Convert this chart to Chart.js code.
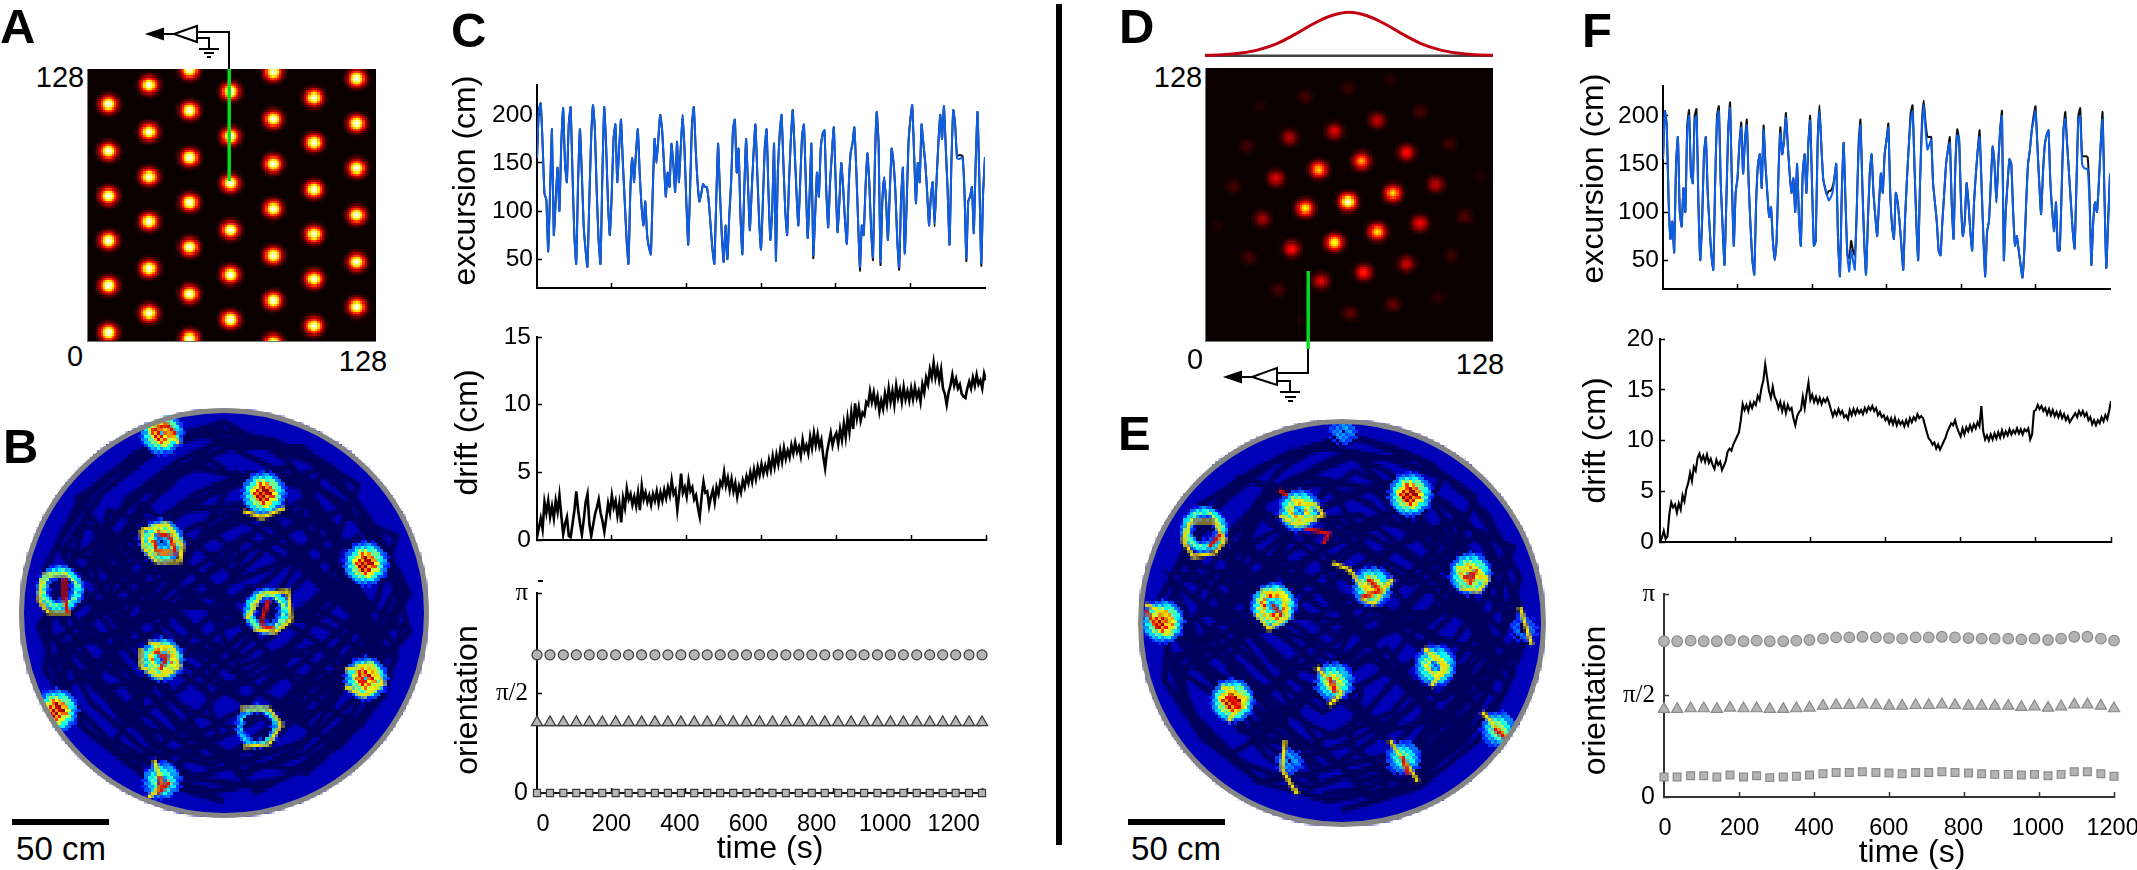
<!DOCTYPE html>
<html><head><meta charset="utf-8"><title>Grid cell model figure</title>
<script src="https://cdn.jsdelivr.net/npm/chart.js@4"></script>
<style>
html,body{margin:0;padding:0;background:#fff}
#page{position:relative;width:2137px;height:870px;overflow:hidden;background:#fff;font-family:"Liberation Sans",Arial,sans-serif;color:#000}
canvas{position:absolute;display:block}
.px{image-rendering:pixelated}
.t{position:absolute;white-space:nowrap;line-height:1;transform:translate(-50%,-50%)}
.L{position:absolute;font-weight:bold;font-size:49px;line-height:1}
.ring{position:absolute;border-radius:50%;border:5px solid #858585;box-sizing:border-box}
.bar{position:absolute;background:#000}
</style></head><body><div id="page">
<svg id="schem" width="2137" height="870" style="position:absolute;left:0;top:0;z-index:5" fill="none" stroke="#000" stroke-width="2">
<path d="M229 69V32H197M174 34H160M197 38H209V48M199 49H219M204 53H214M207 57H211"/>
<path d="M174 34L197 26V42Z" fill="#fff"/><path d="M148 34L163 29V39Z" fill="#000"/>
<path d="M1308 349V373H1277M1252 377H1238M1277 381H1290V391M1280 392H1300M1285 397H1296M1288 401H1293"/>
<path d="M1252 377L1277 368V385Z" fill="#fff"/><path d="M1226 377L1241 372V382Z" fill="#000"/>
<rect x="227.5" y="69" width="3.4" height="112" fill="#00e020" stroke="none"/>
<rect x="1306.5" y="271" width="3.4" height="78" fill="#00e020" stroke="none"/>
</svg>
</div>
<script>
/* ---------- tick labels ---------- */
const timeTickLabels=[0,200,400,600,800,1000,1200];
const excursionTicks=[50,100,150,200];
const driftTicksC=[0,5,10,15];
const driftTicksF=[0,5,10,15,20];
const orientationTickValues=[0,1.5708,3.1416];
const orientationTickText=["0","\u03c0/2","\u03c0"];
const heatmapLabels=["0","128"];
/* ---------- panel C / F time series, one value every 5 s ---------- */
const excursionC=[155,205,212,170,118,112,58,120,185,75,110,145,100,170,207,150,130,190,208,140,75,45,130,185,140,85,60,42,110,175,210,185,120,70,45,135,208,170,110,75,115,175,190,130,165,195,150,110,70,45,120,155,130,160,185,140,105,85,110,75,62,55,120,175,150,175,200,185,150,115,140,125,170,150,120,172,130,165,200,165,110,65,120,190,208,165,130,110,118,128,125,125,110,85,60,45,110,170,120,75,47,85,50,95,130,185,195,140,165,95,55,120,175,130,80,120,160,190,140,90,60,110,165,185,120,70,100,170,48,140,180,200,150,100,75,130,175,205,165,120,85,130,178,190,130,72,115,170,54,95,140,115,165,180,184,120,83,130,160,187,130,78,110,150,125,90,66,125,160,170,187,145,90,42,85,75,125,160,130,80,52,150,203,170,47,110,135,110,70,120,165,150,120,70,42,110,145,56,105,170,195,210,160,108,150,130,190,170,150,120,85,115,130,87,130,170,200,175,209,165,120,65,150,205,190,155,154,155,155,120,51,110,115,125,77,150,203,130,46,120,156];
const excursionBlackPatchC={82:123,148:51,173:38,180:49,184:44,194:39,225:157,226:158,227:158,228:157,230:48,238:43,213:84};
const excursionF=[155,205,190,113,72,90,58,150,178,100,85,125,100,185,200,140,130,195,200,110,50,90,160,178,120,85,55,40,130,195,205,130,85,45,110,185,208,130,65,120,135,170,188,140,175,190,130,85,50,35,110,150,160,125,185,150,120,95,105,70,50,70,140,182,160,175,198,170,140,120,135,100,150,95,65,140,160,120,170,195,130,65,70,170,205,170,135,125,118,112,115,120,135,150,70,33,120,172,110,55,38,60,50,40,100,165,190,130,70,35,90,140,160,120,95,75,110,140,120,160,175,188,120,85,72,120,110,90,65,40,95,135,170,195,205,150,90,50,130,185,212,185,165,170,175,130,110,90,60,55,90,120,150,165,172,110,72,150,180,175,110,75,90,130,110,80,60,110,140,165,178,130,75,33,80,90,130,168,150,110,150,185,200,50,100,130,155,150,100,65,75,60,45,32,60,110,150,165,185,195,205,170,130,98,140,170,180,185,130,100,80,110,60,60,120,185,197,170,140,110,80,62,130,195,200,150,146,145,145,110,45,90,110,100,130,170,196,120,42,90,140];
const excursionBlackPatchF={13:190,14:206,17:200,18:207,29:200,30:210,36:214,42:193,45:196,54:190,63:188,66:203,79:200,84:211,89:122,90:122,91:126,100:52,101:70,102:60,103:55,105:170,106:196,121:192,133:203,134:211,139:192,140:216,141:192,142:178,143:178,144:178,154:178,158:186,170:185,182:205,199:200,200:210,216:204,223:200,224:208,225:158,226:158,227:158,228:157,229:120,236:204};
const driftC=[.2,.9,1.6,.8,2.8,2,2.9,1.7,2.5,1.6,2.9,2.1,3.3,1.8,.4,1.2,1.7,.3,.2,1.2,2.2,3.6,2.2,1.2,.4,1.5,2.8,3.4,1.2,.3,1.1,1.9,2.4,3,2,1.4,.6,1.6,2.7,2,3.3,2.4,2.9,1.8,2.7,1.3,3.1,2.4,3.8,3,3.4,2.6,3.2,2.5,3.5,2.2,4,3,3.5,2.8,3.3,2.6,3.4,2.9,3.6,2.7,3.5,2.9,3.7,3.1,3.9,3.3,4.4,3.4,3.7,2.2,3.4,4.9,3.5,3.9,3.2,4.4,3.6,3.9,3,3.3,2.4,1.7,3.2,4.3,3.5,3.6,2.5,3.2,3.7,2.8,3.9,3.4,4.3,4,5,4,4.6,3.7,4.5,3.6,4.2,3.2,4,3.5,4.4,3.9,4.7,4.2,5,4.3,5.2,4.5,5.4,4.8,5.6,4.9,5.5,5,5.9,5.2,6.2,5.4,6.3,5.6,6.6,5.8,6.8,6,6.6,6.1,7,6.4,7.2,6.5,6.9,6.2,7.4,6.6,7,6.4,7.6,6.8,7.9,7,7.8,6.9,7.4,6.2,5.3,6.5,7.2,7.9,7,7.6,7.9,7.1,8.2,7.4,8.6,7.6,9,8,9.4,8.2,10.1,9,9.8,8.8,9.4,9.2,10.2,10,11,10.2,10.9,10,10.6,9.5,10.3,9.7,10.8,10,11.2,10.2,11,10,11.4,10.5,11.1,10.2,11.3,10.4,11,10.3,11.2,10.4,11.3,10.5,11,10.2,11.5,10.9,12,11.5,12.6,12,13.1,12,12.7,11.8,12.6,11.2,10.8,10,10.9,11.4,12.2,11.4,11.9,11.2,11.5,10.8,10.6,10.5,11.2,11.7,11.2,12,11.4,12.2,11.5,11.8,11.2,12.3,11.8];
const driftF=[0,.4,1.1,.3,.6,2.8,3.9,3.4,3.7,2.9,3.8,3.2,4.6,4,5.2,5.8,6.8,6,7.4,7,8.3,8.7,8,8.5,7.9,8.6,7.8,8.2,7.6,7.2,8.1,7.6,7.9,7.1,7.5,8,8.9,9.2,9,9.6,10,10.4,10.8,12,13.6,13,13.5,12.9,13.7,13.2,13.8,13.5,14.4,14,15.2,15.9,17.5,16.2,14.9,14.2,15.3,14.3,13.9,13.2,13.8,12.9,13.6,12.7,13.5,13,13.2,12.2,11.5,12.4,12.8,13,14.3,13.2,14.6,15.7,14,14.5,13.8,14.3,13.7,14.2,13.6,14.1,13.8,14.2,13.7,13,12.4,12.9,12.5,13.1,12.6,12.9,12.3,12.5,12.1,13,12.5,13.1,12.6,13.1,12.7,13,12.6,13.2,12.8,13.3,13,13.4,12.9,13.2,12.5,12.8,12.3,12.5,12,12.3,11.7,12.2,11.6,12.2,11.5,12,11.6,11.9,11.4,12,11.5,12.2,11.8,12.3,12,12.6,12.2,12.4,12.2,11.5,10.8,10.2,10,9.6,9.8,9.2,9.6,9.1,9.5,9.9,10.3,10.9,11.3,11.7,11.5,12,11.3,10.8,10.4,11.2,10.6,11.3,10.9,11.5,11,11.6,11.2,11.8,11.4,13.4,10.9,10.1,10.5,10,10.6,10.1,10.7,10.2,10.8,10.3,11,10.4,10.9,10.5,11.1,10.6,11,10.7,11.2,10.7,11.1,10.6,11.1,10.9,11.2,10.1,10.6,12.9,13,13.5,13.1,13.4,12.9,13.2,12.6,13.1,12.5,13,12.4,12.8,12.3,12.8,12.2,12.6,12,12.4,11.8,12.1,12.4,12.7,12.3,12.9,12.5,12.9,12.4,12.7,12,12.3,11.6,12,11.5,12,11.7,12.3,11.9,12.5,12.1,12.9,13.9];
/* ---------- orientation panels ---------- */
const orientationTimes=[0,35,71,106,141,176,212,247,282,318,353,388,424,459,494,529,565,600,635,671,706,741,776,812,847,882,918,953,988,1024,1059,1094,1129,1165,1200];
const circlesC=[2.17,2.17,2.17,2.17,2.17,2.17,2.17,2.17,2.17,2.17,2.17,2.17,2.17,2.17,2.17,2.17,2.17,2.17,2.17,2.17,2.17,2.17,2.17,2.17,2.17,2.17,2.17,2.17,2.17,2.17,2.17,2.17,2.17,2.17,2.17];
const trianglesC=[1.11,1.11,1.11,1.11,1.11,1.11,1.11,1.11,1.11,1.11,1.11,1.11,1.11,1.11,1.11,1.11,1.11,1.11,1.11,1.11,1.11,1.11,1.11,1.11,1.11,1.11,1.11,1.11,1.11,1.11,1.11,1.11,1.11,1.11,1.11];
const squaresC=[0,0,0,0,0,0,0,0,0,0,0,0,0,0,0,0,0,0,0,0,0,0,0,0,0,0,0,0,0,0,0,0,0,0,0];
const baseLineC=[1.06,1.06];
const circlesF=[2.41,2.41,2.42,2.41,2.41,2.43,2.41,2.42,2.41,2.41,2.42,2.43,2.45,2.47,2.47,2.48,2.47,2.46,2.45,2.47,2.47,2.48,2.47,2.46,2.45,2.45,2.45,2.44,2.45,2.43,2.45,2.48,2.48,2.45,2.42];
const trianglesF=[1.36,1.36,1.37,1.37,1.36,1.38,1.37,1.37,1.36,1.36,1.37,1.38,1.41,1.42,1.42,1.43,1.42,1.41,1.41,1.42,1.42,1.43,1.42,1.41,1.41,1.41,1.41,1.39,1.4,1.38,1.4,1.43,1.43,1.41,1.37];
const squaresF=[.31,.31,.33,.33,.31,.34,.31,.33,.3,.31,.32,.34,.36,.38,.38,.39,.38,.37,.36,.38,.38,.39,.38,.37,.36,.35,.35,.34,.35,.33,.35,.39,.39,.36,.32];
/* ---------- panel D tuning curve ---------- */
const tuningX=[0,8,16,24,32,40,48,56,64,72,80,88,96,104,112,120,128];
const tuningY=[.01,.02,.06,.14,.28,.49,.73,.92,1,.92,.73,.49,.28,.14,.06,.02,.01];
/* ---------- panels A, D: field centres (0-128 sheet units) and peak height ---------- */
const sheetAx=[9.3,9.3,9.3,9.3,9.3,9.3,27.5,27.5,27.5,27.5,27.5,27.5,45.6,45.6,45.6,45.6,45.6,45.6,45.6,63.8,63.8,63.8,63.8,63.8,63.8,82.4,82.4,82.4,82.4,82.4,82.4,82.4,100.5,100.5,100.5,100.5,100.5,100.5,119.1,119.1,119.1,119.1,119.1,119.1];
const sheetAy=[111.1,89.6,68.5,47.4,26.3,4.2,120.5,98.9,77.4,56.3,34.7,13.6,127.5,108.3,86.7,65.6,44.1,23,1.9,117.2,96.1,74.6,53,31.9,10.3,126.1,105,83.9,62.4,40.8,19.7,-.5,114.4,93.3,71.7,50.2,29.1,8,123.8,102.2,81.1,59.6,38,16.4];
const sheetDx=[82.7,63.6,44,24.4,95.6,76.4,57.3,37.8,18.2,108.9,89.3,69.8,50.7,31.6,12,122.7,102.2,83.1,63.6,44.9,25.8,5.8,115.6,95.6,76.9,57.8,38.7,19.1,109.8,89.8,70.2,51.6,32,103.1,83.6,64.4,43.6];
const sheetDy=[122.4,118.7,114.5,110.7,107.5,103.3,99,95.3,91.6,93,88.3,84.1,80.4,76.6,72.4,78,73.8,69.6,65.9,62.1,57.9,54.2,58.9,55.6,51.9,46.7,43.4,39.2,40.2,36.4,32.7,28.5,24.3,21,17.3,13.5,9.3];
const sheetDpeak=[.06,.08,.1,.05,.1,.28,.33,.26,.1,.1,.38,.62,.68,.34,.1,.05,.28,.7,1,.75,.25,.05,.12,.38,.72,.78,.4,.1,.08,.3,.42,.34,.1,.07,.14,.14,.04];
/* ---------- panels B, E: firing fields [x,y,peak,ring radius] in map bins ---------- */
const fieldsB=[[44.9,120.6,.8,1],[76.8,101.8,1,0],[44.6,86.8,.6,3],[12.1,71.8,.45,5],[77.4,64.9,.45,5],[108.7,79.9,.98,0],[44,49.3,.65,2.5],[108,43.4,.78,1],[11.8,34,.95,0],[74.9,28.4,.3,5],[44.3,11.8,.42,2]];
const fieldsE=[[64,124.6,.25,1],[85.9,104.6,1,0],[50.9,99.6,.6,2],[20.6,93.7,.45,5],[104.9,79.6,.62,2],[73.4,75.6,.62,1],[42.1,69.3,.72,3],[7.1,64.6,.95,0],[121.8,62.4,.2,2],[61.2,45.6,.55,1],[93.1,50.9,.55,2],[29.9,39.6,.85,1],[113.1,30.6,.45,1],[83.4,21.2,.4,1],[47.1,20.9,.25,1]];
/* trails across the fields: x,y pairs, null starts a new stroke */
const trailYellowB=[42,124,48,120,50,117,null,null,70,96,76,94,83,97,null,null,38,90,46,92,51,85,50,80,43,80,39,84,38,90,null,null,7,76,15,76,null,null,7,75,6,68,9,64,16,64,null,null,71,62,76,70,84,71,85,62,80,58,73,59,null,null,40,55,48,53,50,47,44,44,38,47,38,53,null,null,102,46,110,48,114,42,108,38,102,41,null,null,69,34,78,34,82,29,78,23,70,22,null,null,42,18,45,10,40,6];
const trailRedB=[41,121,46,123,49,120,null,null,43,89,47,88,49,83,43,83,42,87,null,null,14,75,14,68,15,64,null,null,78,68,76,62,76,60,80,59,null,null,42,52,46,50,44,46,null,null,106,46,108,42,null,null,44,13,44,8,47,11];
const trailYellowE=[48,103,56,101,58,98,50,95,44,98,null,null,16,96,24,96,27,90,24,86,17,85,14,90,16,96,null,null,100,82,110,78,107,74,101,75,null,null,61,83,66,81,70,76,76,74,80,78,74,70,70,72,null,null,38,74,45,73,47,66,41,62,37,67,null,null,2,70,9,66,10,60,null,null,120,69,123,60,124,57,null,null,56,50,64,42,60,38,null,null,90,56,97,50,92,44,null,null,26,44,34,40,28,33,null,null,108,36,116,28,118,22,null,null,79,27,84,20,88,14,null,null,46,27,45,18,50,10];
const trailRedE=[52,94,60,92,58,89,null,null,47,104,44,106,null,null,22,88,26,92,null,null,102,78,106,80,104,76,null,null,72,78,76,74,70,72,null,null,42,70,45,66,null,null,2,68,6,62,null,null,60,47,62,42,null,null,28,41,32,37,null,null,112,31,117,26,null,null,83,22,85,16];
/* ---------- panels B, E: running path of the animal, x,y pairs in map bins ---------- */
const pathB=[64,5,40,12,20,28,10,48,22,60,36,44,50,30,68,18,90,14,108,30,118,50,104,62,88,48,70,36,52,48,38,66,24,84,34,100,50,112,68,120,88,114,104,100,116,80,100,72,84,84,66,96,48,88,30,76,14,62,8,78,18,98,36,114,58,122,80,118,100,106,112,90,122,70,112,54,96,40,78,28,60,16,42,22,28,38,16,54,30,58,46,64,62,72,78,78,94,88,88,104,72,108,56,102,42,92,28,96,22,80,38,74,54,58,70,50,86,62,102,78,110,66,98,52,82,36,66,28,48,36,34,52,20,70,12,86,26,106,44,118,64,124,84,112,96,94,82,72,66,60,50,72,34,88,44,104,60,112,76,100,90,78,106,88,118,72,106,48,90,30,72,42,56,54,40,40,30,24,46,14,62,26,58,42,74,58,92,66,106,58,120,60,114,38,100,22,84,32,70,44,60,64,70,82,56,92,38,82,20,92,14,72,6,60,14,40,26,50,42,58,58,76,74,90,90,100,100,84,90,58,78,46,62,38,46,24,36,16,54,8,38,30,24,44,36,60,52,80,68,108,80,92,96,72,118,62,104,44,88,22,72,14,76,24,92,42,110,50,96,60,80,64,62,52,48,66,30,68,16,80,28,90,42,76,60,88,78,104,96,110,108,96,114,84,98,66,82,52,66,46,50,56,32,32,18,46,8,60,20,76,40,98,62,118,86,106,100,90,84,80,70,68,54,70,40,56,28,68,12,56,22,36,38,22,56,12,70,10];
const pathE=[64,122,44,116,26,102,14,84,30,78,46,92,64,104,84,110,102,98,116,78,122,58,108,44,92,56,74,66,56,54,38,40,22,50,10,66,8,46,20,28,38,14,60,8,82,12,102,26,116,44,104,64,88,78,70,88,52,76,34,60,18,72,28,92,46,108,66,116,88,116,106,104,98,84,84,70,66,54,50,40,34,30,48,20,66,26,84,36,98,50,112,68,118,88,100,96,80,88,62,78,44,66,26,56,12,54,16,36,32,20,54,12,72,18,90,24,106,38,94,54,76,48,60,38,42,52,28,70,34,88,52,98,72,106,92,104,110,90,120,70,110,52,96,34,78,30,62,44,46,60,30,84,18,100,36,112,56,120,78,116,96,110,86,92,68,76,54,86,38,98,26,78,40,66,58,66,76,60,94,68,108,80,96,92,76,96,60,88,44,80,24,66,10,78,18,60,34,46,50,28,70,14,90,20,104,32,114,50,102,72,88,62,72,72,56,60,42,44,26,40,14,48,22,62,42,72,62,92,82,100,100,76,110,60,96,42,78,22,58,18,40,32,28,50,40,78,50,96,70,98,88,84,104,66,118,54,100,42,86,52,70,34,52,24,32,30,18,56,30,70,46,84,64,70,80,48,96,40,112,58,104,74,90,90,74,106,54,110,36,100,24,88,38,72,54,78,72,58,88,40,104,30,90,16,74,8,58,24,44,44,28,64,22,82,28];

/* ---------- helpers ---------- */
Chart.defaults.font.family='"Liberation Sans",Arial,sans-serif';
Chart.defaults.color='#000';
const page=document.getElementById('page');
const basePlugins={legend:{display:false},tooltip:{enabled:false},title:{display:false}};
const noPad={padding:0,autoPadding:false};
function makeCanvas(left,top,w,h,cssW,cssH,cls){
  const c=document.createElement('canvas');c.width=w;c.height=h;
  c.style.left=left+'px';c.style.top=top+'px';c.style.width=(cssW||w)+'px';c.style.height=(cssH||h)+'px';
  if(cls)c.className=cls;page.appendChild(c);return c;
}
function label(txt,cx,cy,size){
  const d=document.createElement('div');d.className='t';d.textContent=txt;
  d.style.left=cx+'px';d.style.top=cy+'px';d.style.fontSize=size+'px';page.appendChild(d);
}
function letter(txt,left,capTop){
  const d=document.createElement('div');d.className='L';d.textContent=txt;
  d.style.left=left+'px';d.style.top=(capTop-6.5)+'px';page.appendChild(d);
}
function box(cls,l,t,w,h){const d=document.createElement('div');d.className=cls;
  d.style.left=l+'px';d.style.top=t+'px';d.style.width=w+'px';d.style.height=h+'px';page.appendChild(d);}
const zip=(xs,ys)=>xs.map((x,i)=>({x,y:ys[i]}));
const every5=v=>v.map((y,i)=>({x:i*5,y}));
const patched=(v,p)=>{const o=v.slice();for(const k in p)o[k]=p[k];return o;};
const pairs=a=>{const o=[];for(let i=0;i<a.length;i+=2)o.push({x:a[i],y:a[i+1]});return o;};
function fixedTicks(vals){return s=>{s.ticks=vals.map(value=>({value}));};}
function moveTitle(s,dx,dy){
  const draw=s.drawTitle;
  s.drawTitle=function(){const {left,right,top,bottom}=this;
    this.left+=dx;this.right+=dx;this.top+=dy;this.bottom+=dy;draw.call(this);
    this.left=left;this.right=right;this.top=top;this.bottom=bottom;};
}
function timeChart(c){
  const topPad=14,W0=c.axisX-(c.titleCx-20),bottomPad=c.labels?75:8,right=c.rightPad||12;
  const cv=makeCanvas(c.titleCx-20,c.top-topPad,c.right+right-(c.titleCx-20),c.bottom-c.top+topPad+bottomPad);
  const tick={display:true,drawOnChartArea:false,drawTicks:true,tickLength:-5,tickColor:c.axisColor||'#000',tickWidth:1.5};
  const scales={
    x:{type:'linear',position:'bottom',weight:0,min:0,max:1200,afterBuildTicks:fixedTicks(c.xTicks),
       afterFit:s=>{s.height=c.labels?0:8;s.paddingLeft=s.paddingRight=0;},
       grid:tick,border:{display:true,color:c.axisColor||'#000',width:2},ticks:{display:false,autoSkip:false}},
    y:{type:'linear',position:'left',min:c.yMin,max:c.yMax,afterBuildTicks:fixedTicks(c.yTicks),
       afterFit:s=>{s.width=W0;s.paddingTop=s.paddingBottom=0;},
       grid:tick,border:{display:true,color:c.axisColor||'#000',width:2},
       title:{display:true,text:c.title,font:{size:32},padding:0,color:'#000'},
       ticks:{autoSkip:false,padding:c.tickPad||9,font:c.yFont||{size:24.5},callback:c.yCb||(v=>String(v)),color:'#000'}}
  };
  if(c.labels){
    scales.xl={type:'linear',axis:'x',position:'bottom',weight:1,min:c.lMin,max:c.lMax,afterBuildTicks:fixedTicks(timeTickLabels),
      afterFit:s=>{s.height=75;s.paddingLeft=s.paddingRight=0;},
      grid:{display:false},border:{display:false},
      title:{display:true,text:'time (s)',font:{size:32},padding:0,color:'#000'},
      ticks:{autoSkip:false,maxRotation:0,padding:9,font:{size:23.5},callback:v=>String(v),color:'#000'}};
  }
  const titleShift={id:'titleShift',afterLayout(ch){
    if(ch.scales.xl&&c.xTitleShift)moveTitle(ch.scales.xl,c.xTitleShift,0);
    if(c.yTitleShift)moveTitle(ch.scales.y,0,c.yTitleShift);}};
  return new Chart(cv,{type:'line',plugins:[titleShift],data:{datasets:c.datasets},options:{responsive:false,animation:false,devicePixelRatio:1,events:[],
    parsing:{xAxisKey:'x',yAxisKey:'y'},layout:{autoPadding:false,padding:{top:topPad,right,bottom:0,left:0}},plugins:basePlugins,scales,
    elements:{point:{radius:0},line:{tension:0}}}});
}
const lineDs=(data,color,w,tension)=>({data,borderColor:color,borderWidth:w,pointRadius:0,fill:false,tension:tension||0});

/* colour maps and sprites for the activity bumps */
function hot(t){return [Math.min(1,t/.375)*255,Math.max(0,Math.min(1,(t-.375)/.375))*255,Math.max(0,Math.min(1,(t-.75)/.25))*255];}
function jet(t){const c=v=>Math.max(0,Math.min(1,v))*255;return [c(1.5-Math.abs(4*t-3)),c(1.5-Math.abs(4*t-2)),c(1.5-Math.abs(4*t-1))];}
function sprite(size,shade){
  const cv=document.createElement('canvas');cv.width=cv.height=size;const g=cv.getContext('2d');
  const im=g.createImageData(size,size),m=(size-1)/2;
  for(let j=0;j<size;j++)for(let i=0;i<size;i++){
    const r=Math.hypot(i-m,j-m),[cr,cg,cb,a]=shade(r,i,j),k=4*(j*size+i);
    im.data[k]=cr;im.data[k+1]=cg;im.data[k+2]=cb;im.data[k+3]=a;}
  g.putImageData(im,0,0);return cv;
}
function hotSprite(p){return sprite(19,r=>{const t=p*Math.exp(-r*r/(2*2.45*2.45));const c=hot(t);return [c[0],c[1],c[2],t>.012?255:0];});}
function jetSprite(p,r0){const s=r0>0?Math.max(1.7,3.6-r0*.4):3.6;
  return sprite(25,(r,i,j)=>{const d=r-r0,rough=1+.22*(((i*7+j*13)%5)-2)/2;let t=p*Math.exp(-d*d/(2*s*s))*rough;
    const inner=r<r0?t*.55:t;const c=jet(Math.min(inner,.98));return [c[0],c[1],c[2],inner>.14?255:0];});}
const crisp={id:'crisp',beforeDatasetsDraw(ch){ch.ctx.imageSmoothingEnabled=false;}};

function sheetChart(left,top,w,h,xs,ys,peaks){
  const cv=makeCanvas(left,top,128,128,w,h,'px');cv.style.background='#0a0000';
  new Chart(cv,{type:'scatter',plugins:[crisp],data:{datasets:[{data:zip(xs,ys),pointStyle:peaks.map(hotSprite),pointRadius:1,pointBorderWidth:0}]},
    options:{responsive:false,animation:false,devicePixelRatio:1,events:[],plugins:basePlugins,layout:noPad,
      scales:{x:{type:'linear',min:0,max:128,display:false},y:{type:'linear',min:0,max:128,display:false}}}});
  const f=document.createElement('div');f.style.cssText=`position:absolute;left:${left}px;top:${top}px;width:${w}px;height:${h}px;border-left:1px solid #777;border-bottom:1px solid #777;box-sizing:border-box`;page.appendChild(f);
}
const discPlugin={id:'disc',
  beforeDatasetsDraw(ch){const {ctx,scales:{x,y}}=ch,r=x.getPixelForValue(128)-x.getPixelForValue(64);
    ctx.imageSmoothingEnabled=false;
    ctx.save();ctx.beginPath();ctx.arc(x.getPixelForValue(64),y.getPixelForValue(64),r,0,Math.PI*2);ctx.fillStyle='#0000b8';ctx.fill();ctx.clip();},
  afterDatasetsDraw(ch){ch.ctx.restore();}};
function rateChart(cx,cy,R,path,path2,fields,yellow,red){
  const cv=makeCanvas(cx-R,cy-R,128,128,2*R,2*R,'px');
  new Chart(cv,{type:'scatter',plugins:[discPlugin],data:{datasets:[
    {data:pairs(red),showLine:true,spanGaps:false,borderColor:'#e01000',borderWidth:1.2,pointRadius:0},
    {data:pairs(yellow),showLine:true,spanGaps:false,borderColor:'#f4e000',borderWidth:1.2,pointRadius:0},
    {data:fields.map(f=>({x:f[0],y:f[1]})),pointStyle:fields.map(f=>jetSprite(f[2],f[3])),pointRadius:1,pointBorderWidth:0},
    {data:pairs(path),showLine:true,borderColor:'#00005c',borderWidth:1.9,pointRadius:0,tension:0},
    {data:pairs(path2),showLine:true,borderColor:'#00005c',borderWidth:1.9,pointRadius:0,tension:0}
  ]},options:{responsive:false,animation:false,devicePixelRatio:1,events:[],plugins:basePlugins,layout:noPad,
    scales:{x:{type:'linear',min:0,max:128,display:false},y:{type:'linear',min:0,max:128,display:false}}}});
  box('ring',cx-R-1,cy-R-1,2*R+2,2*R+2);
}

/* ---------- panels A, B, D, E ---------- */
sheetChart(87,69,289,273,sheetAx,sheetAy,sheetAx.map(()=>1.02));
sheetChart(1205,68,288,274,sheetDx,sheetDy,sheetDpeak);
rateChart(224,613,204,pathB,pathE,fieldsB,trailYellowB,trailRedB);
rateChart(1342,623,203,pathE,pathB.map((v,i)=>i%2?v:128-v),fieldsE,trailYellowE,trailRedE);
/* tuning curve above D */
new Chart(makeCanvas(1205,8,288,52),{type:'line',data:{datasets:[
  {data:zip(tuningX,tuningY),borderColor:'#c00010',borderWidth:3,pointRadius:0,tension:.4},
  {data:[{x:0,y:0},{x:128,y:0}],borderColor:'#444',borderWidth:2.5,pointRadius:0}]},
  options:{responsive:false,animation:false,devicePixelRatio:1,events:[],plugins:basePlugins,layout:noPad,
  scales:{x:{type:'linear',min:0,max:128,display:false},y:{type:'linear',min:-.1,max:1.1,display:false}}}});

/* ---------- panel C ---------- */
timeChart({axisX:537,right:985,top:85,bottom:288,titleCx:467,yTitleShift:-6,yMin:20,yMax:231,yTicks:excursionTicks,xTicks:[200,400,600,800,1000],title:'excursion (cm)',
  datasets:[lineDs(every5(excursionC),'#0d5fe8',2,.15),lineDs(every5(patched(excursionC,excursionBlackPatchC)),'#111',2,.15)]});
timeChart({axisX:537,right:986,top:337,bottom:540,titleCx:469,yTitleShift:-6,yMin:0,yMax:15,yTicks:driftTicksC,xTicks:[200,400,600,800,1000,1200],title:'drift (cm)',tickPad:11,
  datasets:[lineDs(every5(driftC),'#000',2.6)]});
const orientFont=ctx=>({size:25,family:ctx.tick&&ctx.tick.value===0?'"Liberation Sans"':'"Liberation Serif"'});
const orientCb=v=>orientationTickText[orientationTickValues.indexOf(v)];
const marker=(data,style,r,fill,edge,w,extra)=>Object.assign({data,showLine:false,pointStyle:style,pointRadius:r,pointBackgroundColor:fill,pointBorderColor:edge,pointBorderWidth:w,clip:false},extra||{});
timeChart({axisX:537,right:982,top:593,bottom:793,titleCx:469,yTitleShift:7,xTitleShift:10.5,yMin:0,yMax:3.1416,yTicks:orientationTickValues,xTicks:[200,400,600,800,1000,1200],title:'orientation',tickPad:14,
  yFont:orientFont,yCb:orientCb,labels:true,lMin:-17.5,lMax:1283,
  datasets:[
    marker(zip(orientationTimes,squaresC),'rect',5,'#b4b4b4','#3a3a3a',1.2,{showLine:true,borderColor:'#222',borderWidth:1.5}),
    marker(zip(orientationTimes,trianglesC),'triangle',6.5,'#b4b4b4','#3a3a3a',1.2),
    marker(zip(orientationTimes,circlesC),'circle',5,'#b4b4b4','#3a3a3a',1.2),
    lineDs(zip([-10,1200],baseLineC),'#555',1.5)
  ]});
box('bar',538,580,5,1.5);

/* ---------- panel F ---------- */
timeChart({axisX:1663,right:2110,top:86,bottom:289,titleCx:1595,yTitleShift:-9,yMin:20,yMax:231,yTicks:excursionTicks,xTicks:[200,400,600,800,1000],title:'excursion (cm)',
  datasets:[lineDs(every5(excursionF),'#0d5fe8',2,.15),lineDs(every5(patched(excursionF,excursionBlackPatchF)),'#111',2,.15)]});
timeChart({axisX:1660,right:2111,top:339,bottom:542,titleCx:1597,yMin:0,yMax:20,yTicks:driftTicksF,xTicks:[200,400,600,800,1000,1200],title:'drift (cm)',tickPad:11,
  datasets:[lineDs(every5(driftF),'#000',2.1)]});
timeChart({axisX:1664,right:2114,top:594,bottom:797,titleCx:1597,yTitleShift:5,xTitleShift:23,rightPad:23,yMin:0,yMax:3.1416,yTicks:orientationTickValues,xTicks:[200,400,600,800,1000,1200],title:'orientation',tickPad:14,axisColor:'#333',
  yFont:orientFont,yCb:orientCb,labels:true,lMin:-2.7,lMax:1203.8,
  datasets:[
    marker(zip(orientationTimes,circlesF),'circle',5.3,'#b4b4b4','#8a8a8a',1.2),
    marker(zip(orientationTimes,trianglesF),'triangle',6.5,'#b4b4b4','#8a8a8a',1.2),
    marker(zip(orientationTimes,squaresF),'rect',5.5,'#b4b4b4','#8a8a8a',1.2)
  ]});

/* ---------- text and decorations ---------- */
letter('A',0,8);letter('B',3,428);letter('C',451,12);letter('D',1119,8);letter('E',1118,415);letter('F',1582,12);
label(heatmapLabels[1],60,77,29);label(heatmapLabels[0],75,356,29);label(heatmapLabels[1],363,361,29);
label(heatmapLabels[1],1178,77,29);label(heatmapLabels[0],1195,359,29);label(heatmapLabels[1],1480,364,29);
box('bar',12,819,97,6);box('bar',1128,819,97,6);
label('50 cm',61,848,33);label('50 cm',1176,848,33);
box('bar',1056,4,6,841);
</script></body></html>
